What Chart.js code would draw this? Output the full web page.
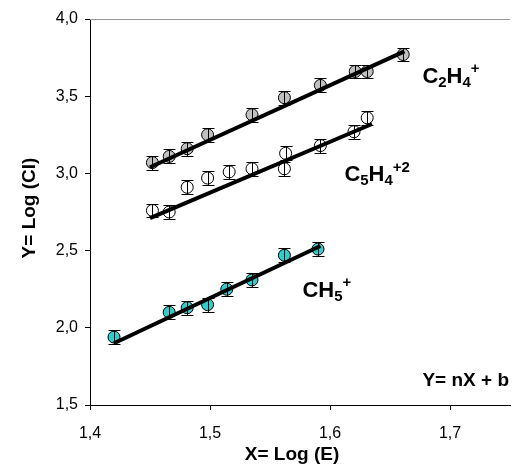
<!DOCTYPE html>
<html>
<head>
<meta charset="utf-8">
<script src="https://cdn.jsdelivr.net/npm/chart.js@4.4.1/dist/chart.umd.min.js"></script>
<style>
  html, body { margin: 0; padding: 0; background: #fff; }
  #wrap { width: 517px; height: 466px; }
</style>
</head>
<body>
<div id="wrap"><canvas id="c" width="517" height="466"></canvas></div>
<script>
// values
const xTicks = [1.4, 1.5, 1.6, 1.7];
const yTicks = [1.5, 2.0, 2.5, 3.0, 3.5, 4.0];

const c2h4X = [1.452, 1.466, 1.481, 1.498, 1.535, 1.562, 1.592, 1.621, 1.631, 1.661];
const c2h4Y = [3.07, 3.11, 3.16, 3.25, 3.38, 3.49, 3.57, 3.66, 3.66, 3.77];
const c2h4FitX = [1.450, 1.662];
const c2h4FitY = [3.04, 3.79];

const c5h4X = [1.452, 1.466, 1.481, 1.498, 1.516, 1.535, 1.562, 1.563, 1.592, 1.620, 1.631];
const c5h4Y = [2.76, 2.75, 2.91, 2.97, 3.01, 3.03, 3.03, 3.13, 3.18, 3.27, 3.36];
const c5h4FitX = [1.450, 1.635];
const c5h4FitY = [2.71, 3.32];

const ch5X = [1.420, 1.466, 1.481, 1.498, 1.514, 1.535, 1.562, 1.590];
const ch5Y = [1.94, 2.10, 2.13, 2.15, 2.25, 2.31, 2.47, 2.51];
const ch5FitX = [1.420, 1.592];
const ch5FitY = [1.90, 2.53];

const errY = 0.045;

const pts = (xs, ys) => xs.map((x, i) => ({x: x, y: ys[i]}));
const FONT = "'Liberation Sans', Arial, sans-serif";

function fitLine(xs, ys) {
    return {
        type: 'line',
        data: pts(xs, ys),
        borderColor: '#000',
        borderWidth: 4,
        pointRadius: 0,
        fill: false,
        order: 0,
        errorBars: false
    };
}

function markers(xs, ys, fill) {
    return {
        type: 'scatter',
        data: pts(xs, ys),
        backgroundColor: fill,
        borderColor: '#000',
        borderWidth: 1,
        pointRadius: 6,
        order: 1,
        errorBars: true
    };
}

// formula text with sub/superscripts
function drawFormula(ctx, parts, x, y, size) {
    ctx.save();
    ctx.fillStyle = '#000';
    ctx.textBaseline = 'alphabetic';
    ctx.textAlign = 'left';
    let cx = x;
    parts.forEach(p => {
        let fs = size, dy = 0;
        if (p[1] === 'sub') { fs = size * 0.68; dy = size * 0.18; }
        if (p[1] === 'sup') { fs = size * 0.68; dy = -size * 0.45; }
        ctx.font = 'bold ' + fs + 'px ' + FONT;
        ctx.fillText(p[0], cx, y + dy);
        cx += ctx.measureText(p[0]).width;
    });
    ctx.restore();
}

const extras = {
    id: 'extras',
    afterDatasetDraw(chart, args) {
        const ds = chart.data.datasets[args.index];
        if (!ds.errorBars) return;
        const ctx = chart.ctx, xs = chart.scales.x, ys = chart.scales.y;
        ctx.save();
        ctx.strokeStyle = '#000';
        ctx.lineWidth = 1;
        ds.data.forEach(p => {
            const px = Math.round(xs.getPixelForValue(p.x)) + 0.5;
            const y1 = Math.round(ys.getPixelForValue(p.y + errY)) + 0.5;
            const y2 = Math.round(ys.getPixelForValue(p.y - errY)) + 0.5;
            ctx.beginPath();
            ctx.moveTo(px, y1); ctx.lineTo(px, y2);
            ctx.moveTo(px - 6, y1); ctx.lineTo(px + 6, y1);
            ctx.moveTo(px - 6, y2); ctx.lineTo(px + 6, y2);
            ctx.stroke();
        });
        ctx.restore();
    },
    afterDraw(chart) {
        const ctx = chart.ctx, a = chart.chartArea;
        const xs = chart.scales.x, ys = chart.scales.y;
        // top border
        ctx.save();
        ctx.strokeStyle = '#999';
        ctx.lineWidth = 1;
        ctx.beginPath();
        ctx.moveTo(a.left, a.top + 0.5); ctx.lineTo(a.right, a.top + 0.5);
        ctx.stroke();
        ctx.restore();

        drawFormula(ctx, [['C', ''], ['2', 'sub'], ['H', ''], ['4', 'sub'], ['+', 'sup']],
            xs.getPixelForValue(1.677), ys.getPixelForValue(3.64) + 8, 22);
        drawFormula(ctx, [['C', ''], ['5', 'sub'], ['H', ''], ['4', 'sub'], ['+2', 'sup']],
            xs.getPixelForValue(1.612), ys.getPixelForValue(3.0) + 8, 22);
        drawFormula(ctx, [['CH', ''], ['5', 'sub'], ['+', 'sup']],
            xs.getPixelForValue(1.577), ys.getPixelForValue(2.25) + 8, 22);

        ctx.save();
        ctx.fillStyle = '#000';
        ctx.font = 'bold 19px ' + FONT;
        ctx.textAlign = 'right';
        ctx.textBaseline = 'middle';
        ctx.fillText('Y= nX + b', 509, 381);
        ctx.textAlign = 'center';
        ctx.fillText('X= Log (E)', 292, 455);
        ctx.translate(30, 208);
        ctx.rotate(-Math.PI / 2);
        ctx.fillText('Y= Log (CI)', 0, 0);
        ctx.restore();
    }
};

const commaFmt = v => v.toFixed(1).replace('.', ',');

new Chart(document.getElementById('c'), {
    data: {
        datasets: [
            markers(c2h4X, c2h4Y, '#C0C0C0'),
            markers(c5h4X, c5h4Y, '#FFFFFF'),
            markers(ch5X, ch5Y, '#33CCCC'),
            fitLine(c2h4FitX, c2h4FitY),
            fitLine(c5h4FitX, c5h4FitY),
            fitLine(ch5FitX, ch5FitY)
        ]
    },
    options: {
        responsive: false,
        animation: false,
        events: [],
        layout: { padding: { top: 19, right: 0, left: 0, bottom: 0 } },
        plugins: { legend: { display: false }, tooltip: { enabled: false } },
        scales: {
            x: {
                type: 'linear',
                min: 1.4,
                max: 1.75,
                afterBuildTicks: s => { s.ticks = xTicks.map(v => ({value: v})); },
                afterFit: s => { s.height = 61; },
                grid: { drawOnChartArea: false, drawTicks: true, tickLength: 5, color: '#000' },
                border: { display: true, color: '#000', width: 1 },
                ticks: { color: '#000', font: { family: FONT, size: 16 }, padding: 14, maxRotation: 0, callback: commaFmt }
            },
            y: {
                type: 'linear',
                min: 1.5,
                max: 4.0,
                afterBuildTicks: s => { s.ticks = yTicks.map(v => ({value: v})); },
                afterFit: s => { s.width = 90; },
                grid: { drawOnChartArea: false, drawTicks: true, tickLength: 5, color: '#000' },
                border: { display: true, color: '#000', width: 1 },
                ticks: { color: '#000', font: { family: FONT, size: 16 }, padding: 7, callback: commaFmt }
            }
        }
    },
    plugins: [extras]
});
</script>
</body>
</html>
